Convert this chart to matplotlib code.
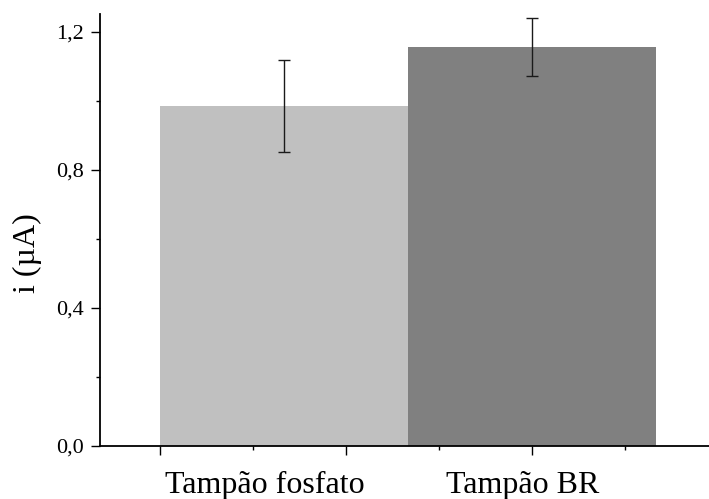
import matplotlib
matplotlib.use("Agg")
import matplotlib.pyplot as plt
from matplotlib.ticker import FixedLocator, FuncFormatter

categories = ["Tampão fosfato", "Tampão BR"]
values = [0.986, 1.156]
errors = [0.134, 0.083]
colors = ["#C0C0C0", "#808080"]
yticks = [0.0, 0.4, 0.8, 1.2]

plt.rcParams['font.family'] = ['Liberation Serif', 'DejaVu Serif']

fig = plt.figure(figsize=(7.09, 4.99), dpi=100)
ax = fig.add_axes([99.5/709, 53/499, 1 - 99.5/709, 432/499])

pos = [1, 2]
ax.bar(pos, values, width=1.0, color=colors, edgecolor='none', zorder=2)
ax.errorbar(pos, values, yerr=errors, fmt='none', ecolor='#1a1a1a',
            elinewidth=1.0, capsize=4, capthick=1.0, zorder=3)

ax.set_xlim(0.254, 2.712)
ax.set_ylim(0, 1.252)

ax.xaxis.set_major_locator(FixedLocator([0.5, 1.25, 2.0]))
ax.xaxis.set_minor_locator(FixedLocator([0.875, 1.625, 2.375]))
ax.set_xticklabels([])
ax.yaxis.set_major_locator(FixedLocator(yticks))
ax.yaxis.set_minor_locator(FixedLocator([0.2, 0.6, 1.0]))
ax.yaxis.set_major_formatter(FuncFormatter(lambda v, p: f"{v:.1f}".replace('.', ',')))

ax.tick_params(axis='both', which='major', direction='out', length=6.5, width=1.0,
               labelsize=16, pad=5)
ax.tick_params(axis='both', which='minor', direction='out', length=3.2, width=1.0)

for s in ['top', 'right']:
    ax.spines[s].set_visible(False)
for s in ['left', 'bottom']:
    ax.spines[s].set_linewidth(1.3)

label_x = [0.921, 1.961]
for x, c in zip(label_x, categories):
    ax.text(x, -0.136, c, ha='center', va='baseline', fontsize=23, clip_on=False)

fig.text(27.5/709, 1 - 253/499, "i (µA)", rotation=90, ha='center', va='center',
         fontsize=23)

fig.savefig("out.png", dpi=100)
